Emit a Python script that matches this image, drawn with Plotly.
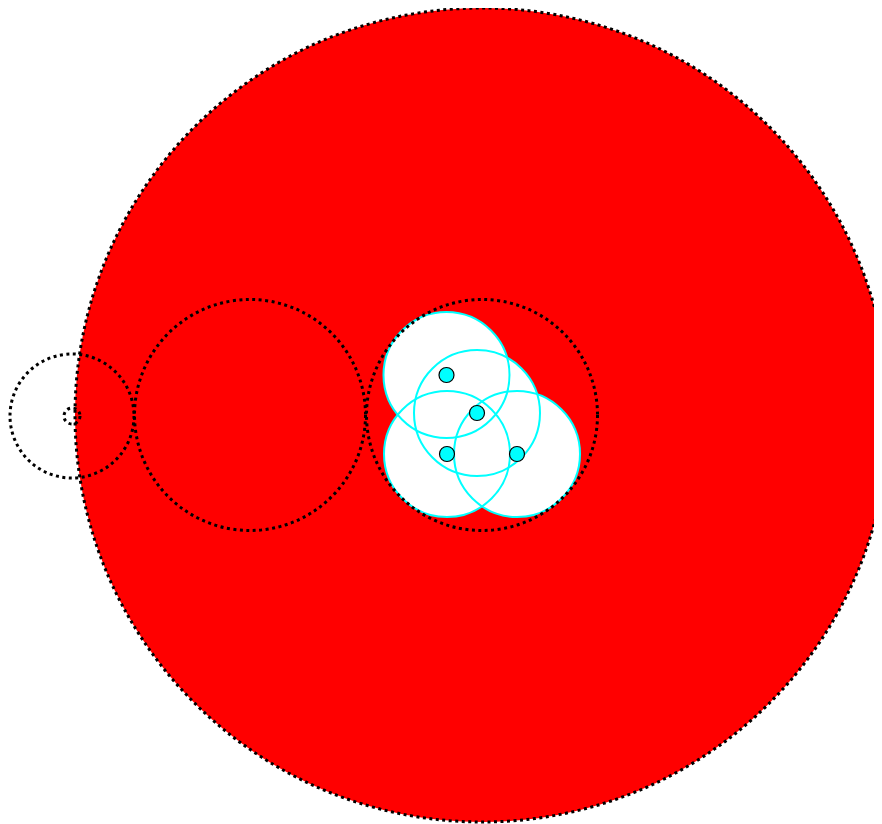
import plotly.graph_objects as go

# Big filled circle
big_center = (0.0, 0.0)
big_radius = 4.07

# Dotted outline circles (centers and radii)
dotted_x = [0.0, -2.32, -4.10, -4.10]
dotted_y = [0.0, 0.0, -0.01, -0.01]
dotted_r = [1.155, 1.155, 0.62, 0.08]

# White circles with cyan edges (centers = cyan points)
pts_x = [-0.355, -0.05, -0.35, 0.35]
pts_y = [0.40, 0.02, -0.39, -0.39]
white_r = 0.63

dot_line = dict(color="black", width=3, dash="3px,3.5px")

shapes = []
shapes.append(dict(type="circle", xref="x", yref="y", layer="below",
                   x0=big_center[0] - big_radius, x1=big_center[0] + big_radius,
                   y0=big_center[1] - big_radius, y1=big_center[1] + big_radius,
                   fillcolor="#ff0000", line=dot_line))
for cx, cy in zip(pts_x, pts_y):
    shapes.append(dict(type="circle", xref="x", yref="y", layer="below",
                       x0=cx - white_r, x1=cx + white_r, y0=cy - white_r, y1=cy + white_r,
                       fillcolor="white", line=dict(width=0)))
for cx, cy in zip(pts_x, pts_y):
    shapes.append(dict(type="circle", xref="x", yref="y", layer="below",
                       x0=cx - white_r, x1=cx + white_r, y0=cy - white_r, y1=cy + white_r,
                       fillcolor="rgba(0,0,0,0)", line=dict(color="cyan", width=2)))
for cx, cy, r in zip(dotted_x, dotted_y, dotted_r):
    shapes.append(dict(type="circle", xref="x", yref="y", layer="below",
                       x0=cx - r, x1=cx + r, y0=cy - r, y1=cy + r,
                       fillcolor="rgba(0,0,0,0)", line=dot_line))

fig = go.Figure()
fig.add_trace(go.Scatter(x=pts_x, y=pts_y, mode="markers",
                         marker=dict(size=15, color="cyan", line=dict(color="black", width=1.2)),
                         showlegend=False, hoverinfo="skip"))

fig.update_layout(
    width=874, height=816,
    margin=dict(l=0, r=0, t=0, b=0),
    paper_bgcolor="white", plot_bgcolor="white",
    shapes=shapes,
    showlegend=False,
    xaxis=dict(range=[-4.74, 4.00], visible=False, showgrid=False, zeroline=False),
    yaxis=dict(range=[-4.09, 4.07], visible=False, showgrid=False, zeroline=False),
)

fig.write_html("out.html")
